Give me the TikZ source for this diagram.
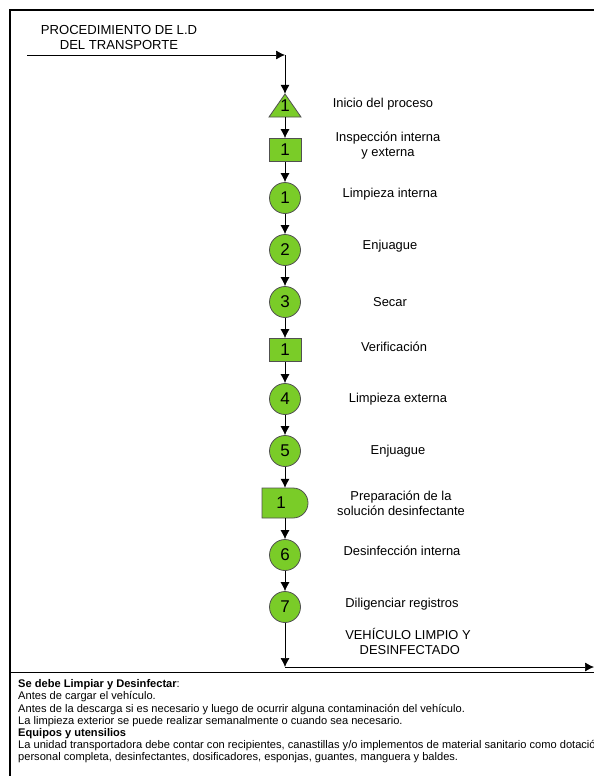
\documentclass[tikz,border=0pt]{standalone}
\usepackage{fontspec}
\setmainfont{Liberation Sans}
\usetikzlibrary{arrows.meta}
\usetikzlibrary{calc,positioning}

\definecolor{stepgreen}{RGB}{122,204,40}
\definecolor{stepedge}{RGB}{80,80,80}

\begin{document}
\begin{tikzpicture}[x=1pt,y=-1pt]
    \def\spineX{285}
    \def\boxW{32pt}
    \def\boxH{23pt}

    \tikzstyle{flow}=[-{Latex[length=9pt,width=9pt]},line width=0.7pt]
    \tikzstyle{opcircle}=[circle,draw=stepedge,fill=stepgreen,line width=0.8pt,minimum size=31pt,inner sep=0pt,font=\fontsize{17}{17}\selectfont]
    \tikzstyle{inspect}=[rectangle,draw=stepedge,fill=stepgreen,line width=0.8pt,minimum width=\boxW,minimum height=\boxH,inner sep=0pt,font=\fontsize{17}{17}\selectfont]
    \tikzstyle{hold}=[inner sep=0pt,minimum width=\boxW,minimum height=\boxH,font=\fontsize{17}{17}\selectfont]
    \tikzstyle{label}=[align=center,font=\fontsize{12.9}{15}\selectfont]

    \useasboundingbox (0,0) rectangle (594,776);

    % Frame
    \draw[line width=2pt] (10,777) -- (10,10) -- (595,10);
    \draw[line width=0.9pt] (10,672) -- (595,672);

    % Entry
    \node[label,font=\fontsize{13.1}{15}\selectfont] (title) at (119,37) {PROCEDIMIENTO DE L.D\\DEL TRANSPORTE};
    \coordinate (entryL) at (27,55);
    \coordinate (entryC) at (\spineX,55);

    % Steps
    \fill[stepgreen,draw=stepedge,line width=0.8pt] (269,117) -- (\spineX,94) -- (301,117) -- cycle;
    \node[hold] (start) at (\spineX,105.5) {\raisebox{-3pt}{1}};
    \node[inspect] (insp1) at (\spineX,150) {1};
    \node[opcircle] (op1) at (\spineX,198) {1};
    \node[opcircle] (op2) at (\spineX,250) {2};
    \node[opcircle] (op3) at (\spineX,302) {3};
    \node[inspect] (insp2) at (\spineX,350) {1};
    \node[opcircle] (op4) at (\spineX,399) {4};
    \node[opcircle] (op5) at (\spineX,451) {5};
    \fill[stepgreen,draw=stepedge,line width=0.8pt] (262,488) -- (293,488) arc (-90:90:15) -- (262,518) -- cycle;
    \node[hold,minimum height=30pt] (prep) at (\spineX,503) {\hspace*{-8pt}1};
    \node[opcircle] (op6) at (\spineX,555) {6};
    \node[opcircle] (op7) at (\spineX,607) {7};

    % Labels
    \node[label] (lbstart) at (383,104) {Inicio del proceso};
    \node[label] (lbinsp1) at (388,146) {Inspección interna\\y externa};
    \node[label] (lbop1) at (390,194) {Limpieza interna};
    \node[label] (lbop2) at (390,246) {Enjuague};
    \node[label] (lbop3) at (390,302) {Secar};
    \node[label] (lbinsp2) at (394,347) {Verificación};
    \node[label] (lbop4) at (398,399) {Limpieza externa};
    \node[label] (lbop5) at (398,451) {Enjuague};
    \node[label] (lbprep) at (401,503) {Preparación de la\\solución desinfectante};
    \node[label] (lbop6) at (402,551) {Desinfección interna};
    \node[label] (lbop7) at (402,604) {Diligenciar registros};
    \node[label] (lbend) at (408,641) {VEHÍCULO LIMPIO Y\\\ DESINFECTADO};

    % Connectors
    \coordinate (endC) at (\spineX,667);
    \coordinate (exitR) at (594,667);
    \draw[flow] (entryL) -- (entryC);
    \draw[flow] (entryC) -- (start.north);
    \draw[flow] (start.south) -- (insp1.north);
    \draw[flow] (insp1) -- (op1);
    \draw[flow] (op1) -- (op2);
    \draw[flow] (op2) -- (op3);
    \draw[flow] (op3) -- (insp2);
    \draw[flow] (insp2) -- (op4);
    \draw[flow] (op4) -- (op5);
    \draw[flow] (op5) -- (prep.north);
    \draw[flow] (prep.south) -- (op6);
    \draw[flow] (op6) -- (op7);
    \draw[flow] (op7) -- (endC);
    \draw[flow] (endC) -- (exitR);

    % Notes
    \node[anchor=north west,align=left,inner sep=0pt,font=\fontsize{11.1}{12.2}\selectfont] (notes) at (18,679.5) {%
      \textbf{Se debe Limpiar y Desinfectar}:\\
      Antes de cargar el vehículo.\\
      Antes de la descarga si es necesario y luego de ocurrir alguna contaminación del vehículo.\\
      La limpieza exterior se puede realizar semanalmente o cuando sea necesario.\\
      \textbf{Equipos y utensilios}\\
      La unidad transportadora debe contar con recipientes, canastillas y/o implementos de material sanitario como dotación\\
      personal completa, desinfectantes, dosificadores, esponjas, guantes, manguera y baldes.};
\end{tikzpicture}
\end{document}
